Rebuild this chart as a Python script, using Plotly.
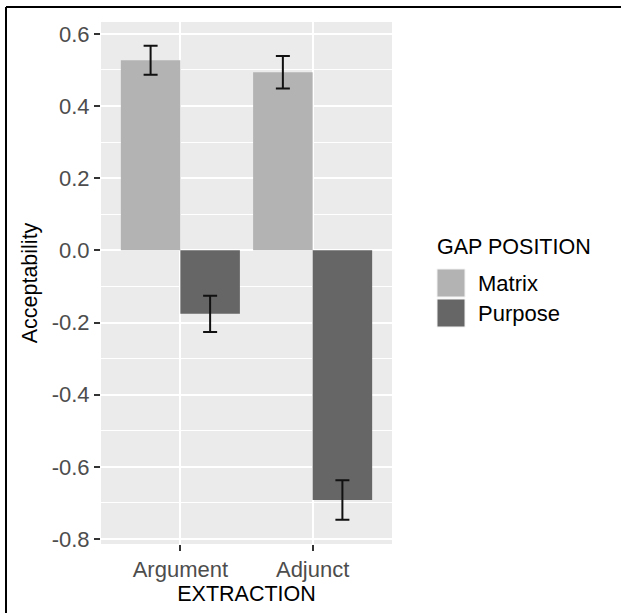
import plotly.graph_objects as go

# ---- data ----
categories = ["Argument", "Adjunct"]
groups = ["Matrix", "Purpose"]
matrix_vals = [0.527, 0.494]
matrix_err = [0.040, 0.045]
purpose_vals = [-0.176, -0.692]
purpose_err = [0.050, 0.055]
colors = {"Matrix": "#B3B3B3", "Purpose": "#666666"}
y_ticks = [0.6, 0.4, 0.2, 0.0, -0.2, -0.4, -0.6, -0.8]
y_ticklabels = ["0.6", "0.4", "0.2", "0.0", "-0.2", "-0.4", "-0.6", "-0.8"]
y_minor = [0.5, 0.3, 0.1, -0.1, -0.3, -0.5, -0.7]

W, H = 621, 613
L, R, T, B = 101, 229, 22, 69
PW, PH = W - L - R, H - T - B


def px(x):
    return (x - L) / PW


def py(y):
    return (H - B - y) / PH


FONT = "Liberation Sans, Arial, sans-serif"

fig = go.Figure()
for name, vals, errs in [("Matrix", matrix_vals, matrix_err),
                         ("Purpose", purpose_vals, purpose_err)]:
    fig.add_trace(go.Bar(
        x=categories, y=vals, name=name,
        marker=dict(color=colors[name], line=dict(width=0)),
        error_y=dict(type="data", array=errs, visible=True,
                     color="#111111", thickness=2, width=7),
        showlegend=False,
    ))

fig.update_layout(
    width=W, height=H,
    margin=dict(l=L, r=R, t=T, b=B, pad=0),
    paper_bgcolor="white", plot_bgcolor="#EBEBEB",
    barmode="group", bargap=0.1, bargroupgap=0,
    font=dict(family=FONT, size=22, color="#4D4D4D"),
)
fig.update_xaxes(
    range=[-0.6, 1.6], type="category",
    showgrid=True, gridcolor="white", gridwidth=2,
    ticks="outside", ticklen=6, tickwidth=2, tickcolor="#333333",
    tickfont=dict(size=22, color="#4D4D4D", family=FONT),
    title=dict(text="EXTRACTION", font=dict(size=21.5, color="black", family=FONT), standoff=4),
    showline=False, zeroline=False,
)
fig.update_yaxes(
    range=[-0.814, 0.633],
    tickvals=y_ticks, ticktext=y_ticklabels,
    showgrid=True, gridcolor="white", gridwidth=2,
    minor=dict(tickmode="array", tickvals=y_minor, showgrid=True,
               gridcolor="white", gridwidth=1, ticks=""),
    ticks="outside", ticklen=6, tickwidth=2, tickcolor="#333333",
    tickfont=dict(size=22, color="#4D4D4D", family=FONT),
    title=dict(text="Acceptability", font=dict(size=21.5, color="black", family=FONT), standoff=8),
    showline=False, zeroline=False,
)

# legend (drawn manually to match ggplot keys)
fig.add_annotation(xref="paper", yref="paper", x=px(435), y=py(247), xanchor="left", yanchor="middle",
                   text="GAP POSITION", showarrow=False,
                   font=dict(size=21.5, color="black", family=FONT))
key_rows = [(269, 297, "Matrix"), (299, 327, "Purpose")]
for y0, y1, name in key_rows:
    fig.add_shape(type="rect", xref="paper", yref="paper",
                  x0=px(437), x1=px(465), y0=py(y1), y1=py(y0),
                  fillcolor=colors[name], line=dict(width=1, color="#F2F2F2"))
    fig.add_annotation(xref="paper", yref="paper", x=px(476), y=py((y0 + y1) / 2),
                       xanchor="left", yanchor="middle", text=name, showarrow=False,
                       font=dict(size=22, color="black", family=FONT))

# outer frame lines (top and left)
fig.add_shape(type="line", xref="paper", yref="paper", x0=px(6), x1=px(621), y0=py(7), y1=py(7),
              line=dict(color="black", width=2))
fig.add_shape(type="line", xref="paper", yref="paper", x0=px(6), x1=px(6), y0=py(7), y1=py(613),
              line=dict(color="black", width=2))

fig.write_html("out.html")
